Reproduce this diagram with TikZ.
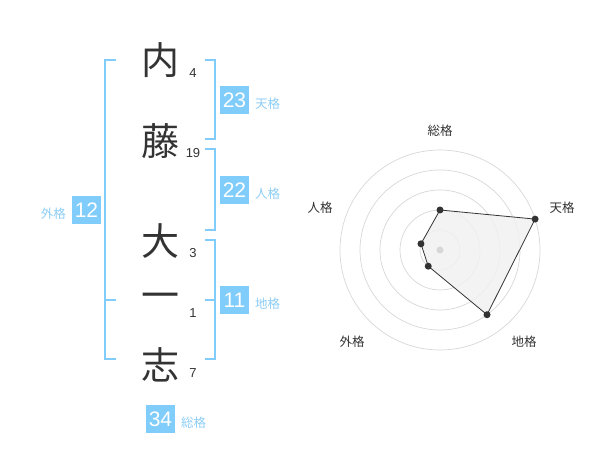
\documentclass[tikz,border=0pt]{standalone}
\usepackage{fontspec}
\setmainfont{Liberation Sans}
\newfontfamily\jpfont{Noto Sans CJK JP}
\usetikzlibrary{positioning}
\definecolor{kakublue}{RGB}{128,204,250}
\definecolor{kakutext}{RGB}{140,205,245}
\definecolor{inkgray}{RGB}{51,51,51}
\definecolor{ringgray}{RGB}{215,215,215}
\definecolor{areagray}{RGB}{241,241,241}

\begin{document}
\begin{tikzpicture}[x=1pt,y=-1pt]
 	\tikzstyle{moji}=[inner sep=0pt, text=inkgray, font=\jpfont\fontsize{38}{38}\selectfont]
 	\tikzstyle{kaku}=[inner sep=0pt, text=inkgray, font=\fontsize{13}{13}\selectfont]
 	\tikzstyle{score}=[fill=kakublue, text=white, minimum size=28.5pt, inner sep=0pt, font=\fontsize{21}{21}\selectfont]
 	\tikzstyle{kakuname}=[inner sep=0pt, text=kakutext, font=\jpfont\fontsize{12.5}{12.5}\selectfont, yshift=-4pt]
 	\tikzstyle{brace}=[draw=kakublue, line width=2pt]
 	\tikzstyle{ring}=[draw=ringgray, line width=0.7pt]
 	\tikzstyle{axislbl}=[inner sep=0pt, text=inkgray, font=\jpfont\fontsize{12.5}{12.5}\selectfont]
 	\tikzstyle{vertex}=[circle, fill=inkgray, inner sep=0pt, minimum size=7pt]
 	\useasboundingbox (0,0) rectangle (600,470);
 	% name characters and stroke counts
 	\node[moji] (c1) at (160,60) {内};
 	\node[moji] (c2) at (160,141) {藤};
 	\node[moji] (c3) at (160,241) {大};
 	\node[moji] (c4) at (160,301) {一};
 	\node[moji] (c5) at (160,365) {志};
 	\node[kaku] (k1) at (193,73) {4};
 	\node[kaku] (k2) at (193,153) {19};
 	\node[kaku] (k3) at (193,253) {3};
 	\node[kaku] (k4) at (193,313) {1};
 	\node[kaku] (k5) at (193,373) {7};
 	% brackets
 	\draw[brace] (116,60) -- (105,60) -- (105,359) -- (116,359) (105,300) -- (116,300);
 	\draw[brace] (205,60) -- (214.5,60) -- (214.5,139.5) -- (205,139.5);
 	\draw[brace] (205,149.5) -- (214.5,149.5) -- (214.5,230) -- (205,230);
 	\draw[brace] (205,240) -- (214.5,240) -- (214.5,359.5) -- (205,359.5) (214.5,300) -- (205,300);
 	% scores
 	\node[score] (ten) at (234.5,100) {23};
 	\node[score] (jin) at (234.5,190) {22};
 	\node[score] (chi) at (234.5,300) {11};
 	\node[score] (gai) at (86.5,210) {12};
 	\node[score] (sou) at (160.5,419) {34};
 	\node[kakuname, right=6pt of ten] (tenL) {天格};
 	\node[kakuname, right=6pt of jin] (jinL) {人格};
 	\node[kakuname, right=6pt of chi] (chiL) {地格};
 	\node[kakuname, left=6pt of gai] (gaiL) {外格};
 	\node[kakuname, right=6pt of sou] (souL) {総格};
 	% radar
 	\begin{scope}[shift={(440,250)}]
 		\foreach \r in {20,40,60,80,100}
 			\draw[ring] (0,0) circle (\r pt);
 		\coordinate (pSou) at (90:40pt);
 		\coordinate (pTen) at (18:100pt);
 		\coordinate (pChi) at (-54:80pt);
 		\coordinate (pGai) at (-126:20pt);
 		\coordinate (pJin) at (162:20pt);
 		\draw[fill=areagray, fill opacity=0.85, draw=inkgray, line width=0.8pt] (pSou) -- (pTen) -- (pChi) -- (pGai) -- (pJin) -- cycle;
 		\foreach \p in {pSou,pTen,pChi,pGai,pJin}
 			\node[vertex] at (\p) {};
 		\node[circle, fill=ringgray, inner sep=0pt, minimum size=7pt] (mid) at (0,0) {};
 	\end{scope}
 	\node[axislbl] (aSou) at (440,131) {総格};
 	\node[axislbl] (aTen) at (562,208) {天格};
 	\node[axislbl] (aJin) at (320,208) {人格};
 	\node[axislbl] (aGai) at (352,342) {外格};
 	\node[axislbl] (aChi) at (524,342) {地格};
\end{tikzpicture}
\end{document}
